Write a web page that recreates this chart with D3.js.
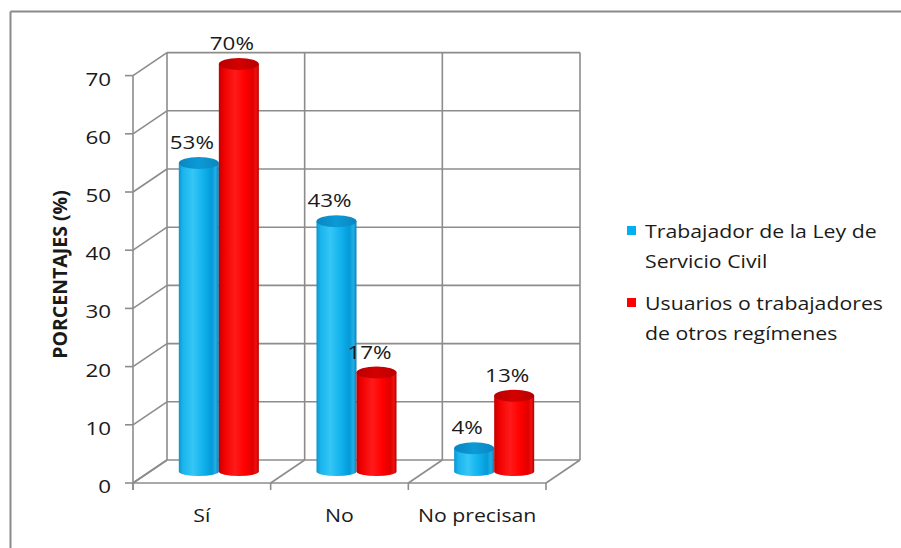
<!DOCTYPE html>
<html>
<head>
<meta charset="utf-8">
<script src="https://cdn.jsdelivr.net/npm/d3@7"></script>
<style>
  html, body { margin: 0; padding: 0; background: #ffffff; }
  svg { display: block; }
  text { font-family: "Open Sans", "Noto Sans", sans-serif; fill: #1a1a1a; }
</style>
</head>
<body>
<svg id="chart" width="901" height="548"></svg>
<script>
// Categories, series and values
const categories = ["Sí", "No", "No precisan"];
const seriesNames = ["Trabajador de la Ley de Servicio Civil", "Usuarios o trabajadores de otros regímenes"];
const legendLines = [["Trabajador de la Ley de", "Servicio Civil"], ["Usuarios o trabajadores", "de otros regímenes"]];
const trabajadorValues = [53, 43, 4];
const usuariosValues = [70, 17, 13];
const yTicks = [0, 10, 20, 30, 40, 50, 60, 70];
const yTitle = "PORCENTAJES (%)";

const svg = d3.select("#chart");
const W = 901, H = 548;

// Pseudo‑3D frame: front plane scales plus a depth offset toward the back wall
const DX = 34, DY = -23;
const SX = 1.18;   // horizontal stretch for numbers
const SXT = 1.12;  // horizontal stretch for words
const gridColor = "#8c8c8c";

const y = d3.scaleLinear().domain([0, 70]).range([483, 75.6]);
const x = d3.scaleBand().domain(categories).range([133, 546]).paddingInner(0).paddingOuter(0);
const xs = d3.scaleBand().domain(seriesNames).range([0, x.bandwidth()]).paddingInner(0).paddingOuter(0.72);
const color = d3.scaleOrdinal().domain(seriesNames).range(["#00b0f0", "#ff0000"]);

const P = (px, py, d) => [px + d * DX, py + d * DY];

const data = [];
categories.forEach((c, i) => {
  data.push({ cat: c, s: seriesNames[0], v: trabajadorValues[i] });
  data.push({ cat: c, s: seriesNames[1], v: usuariosValues[i] });
});

// Outer chart border (top and left visible)
svg.append("line").attr("x1", 10.5).attr("y1", 11.5).attr("x2", W).attr("y2", 11.5)
  .attr("stroke", "#8a8a8a").attr("stroke-width", 2);
svg.append("line").attr("x1", 10.5).attr("y1", 11.5).attr("x2", 10.5).attr("y2", H)
  .attr("stroke", "#8a8a8a").attr("stroke-width", 2);

const frame = svg.append("g").attr("stroke", gridColor).attr("stroke-width", 1.6).attr("fill", "none");
const x0 = x.range()[0], x1 = x.range()[1];

// Back wall horizontal gridlines and side wall diagonals
yTicks.forEach(t => {
  const a = P(x0, y(t), 1), b = P(x1, y(t), 1);
  frame.append("line").attr("x1", a[0]).attr("y1", a[1]).attr("x2", b[0]).attr("y2", b[1]);
  const f = P(x0, y(t), 0);
  frame.append("line").attr("x1", f[0]).attr("y1", f[1]).attr("x2", a[0]).attr("y2", a[1]);
});

// Back wall verticals at category boundaries, floor diagonals, category ticks
const bounds = categories.map(c => x(c)).concat([x1]);
bounds.forEach(bx => {
  const a = P(bx, y(0), 1), b = P(bx, y(70), 1);
  frame.append("line").attr("x1", a[0]).attr("y1", a[1]).attr("x2", b[0]).attr("y2", b[1]);
  const f = P(bx, y(0), 0);
  frame.append("line").attr("x1", f[0]).attr("y1", f[1]).attr("x2", a[0]).attr("y2", a[1]);
  frame.append("line").attr("x1", bx).attr("y1", y(0)).attr("x2", bx).attr("y2", y(0) + 7);
});

// Front floor edge and vertical axis
frame.append("line").attr("x1", x0).attr("y1", y(0)).attr("x2", x1).attr("y2", y(0));
frame.append("line").attr("x1", x0).attr("y1", y(70)).attr("x2", x0).attr("y2", y(0) + 7);
yTicks.forEach(t => {
  frame.append("line").attr("x1", x0 - 8).attr("y1", y(t)).attr("x2", x0).attr("y2", y(t));
});

// Y tick labels
svg.append("g").selectAll("text").data(yTicks).join("text")
  .attr("transform", d => `translate(${x0 - 22},${y(d) + 10}) scale(${SX},1)`)
  .attr("text-anchor", "end").attr("font-size", 19)
  .text(d => d);

// Category labels
svg.append("g").selectAll("text").data(categories).join("text")
  .attr("transform", d => `translate(${x(d) + x.bandwidth() / 2},521.5) scale(${SXT},1)`)
  .attr("text-anchor", "middle").attr("font-size", 19)
  .text(d => d);

// Y axis title
svg.append("text")
  .attr("transform", "translate(67,274.5) rotate(-90)")
  .attr("text-anchor", "middle").attr("font-size", 19.5).attr("font-weight", 700)
  .text(yTitle);

// Cylinder gradients
const defs = svg.append("defs");
function grad(id, stops) {
  const g = defs.append("linearGradient").attr("id", id).attr("x1", "0%").attr("x2", "100%").attr("y1", "0%").attr("y2", "0%");
  stops.forEach(([o, c]) => g.append("stop").attr("offset", o).attr("stop-color", c));
}
grad("body0", [["0%", "#0b95cf"], ["10%", "#19b4ec"], ["35%", "#35c6f6"], ["60%", "#12b3ee"], ["82%", "#049ad8"], ["92%", "#22aee6"], ["100%", "#0a82ba"]]);
grad("body1", [["0%", "#c20000"], ["12%", "#f00000"], ["40%", "#ff1a1a"], ["65%", "#ff0000"], ["85%", "#e00000"], ["93%", "#f21010"], ["100%", "#b30000"]]);
grad("top0", [["0%", "#0a86c0"], ["50%", "#0c9ad6"], ["100%", "#0a86c0"]]);
grad("top1", [["0%", "#b80000"], ["50%", "#d40000"], ["100%", "#b80000"]]);

// Cylinders placed halfway into the depth of the floor
const D = 0.5;
const ryTop = 6, ryBot = 4.5;
const bars = svg.append("g");
data.forEach(d => {
  const si = seriesNames.indexOf(d.s);
  const bx = x(d.cat) + xs(d.s) + D * DX;
  const w = xs.bandwidth();
  const rx = w / 2;
  const yt = y(d.v) + D * DY;
  const yb = y(0) + D * DY;
  const body = `M${bx},${yt} L${bx},${yb} A${rx},${ryBot} 0 0 0 ${bx + w},${yb} L${bx + w},${yt} Z`;
  bars.append("path").attr("d", body).attr("fill", `url(#body${si})`);
  bars.append("ellipse").attr("cx", bx + rx).attr("cy", yt).attr("rx", rx).attr("ry", ryTop)
    .attr("fill", `url(#top${si})`);
  // value label
  svg.append("text")
    .attr("transform", `translate(${bx + rx - 7},${yt - 14}) scale(${SX},1)`)
    .attr("text-anchor", "middle").attr("font-size", 19)
    .text(d.v + "%");
});

// Legend
const legend = svg.append("g");
seriesNames.forEach((s, i) => {
  const base = 238 + i * 72;
  legend.append("rect").attr("x", 627).attr("y", base - 12).attr("width", 9).attr("height", 9).attr("fill", color(s));
  legendLines[i].forEach((ln, j) => {
    legend.append("text")
      .attr("transform", `translate(645,${base + j * 30}) scale(${SXT},1)`)
      .attr("font-size", 19).text(ln);
  });
});
</script>
</body>
</html>
